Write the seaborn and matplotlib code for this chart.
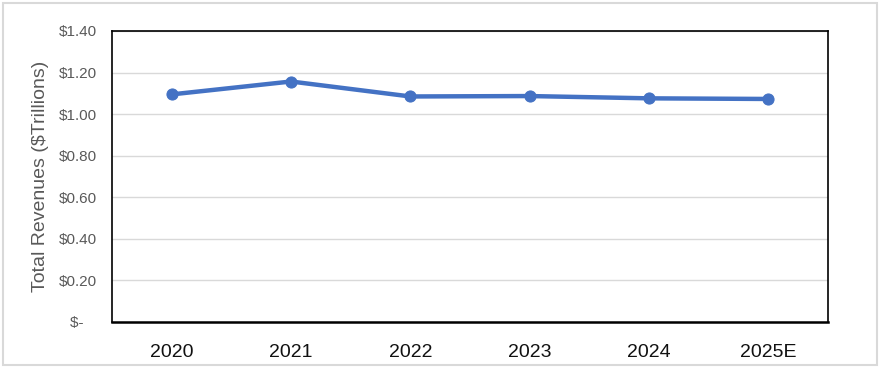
import matplotlib
matplotlib.use("Agg")
import matplotlib.pyplot as plt
import seaborn as sns
import pandas as pd
from matplotlib.patches import Rectangle

years = ["2020", "2021", "2022", "2023", "2024", "2025E"]
revenues = [1.095, 1.157, 1.085, 1.087, 1.076, 1.073]
ytick_values = [0.0, 0.2, 0.4, 0.6, 0.8, 1.0, 1.2, 1.4]
ytick_labels = ["$-   ", "$0.20", "$0.40", "$0.60", "$0.80", "$1.00", "$1.20", "$1.40"]
y_label = "Total Revenues ($Trillions)"

df = pd.DataFrame({"year": years, "revenue": revenues})
df["pos"] = range(len(years))

sns.set_style("white")
plt.rcParams["font.family"] = ["Liberation Sans", "DejaVu Sans"]

fig = plt.figure(figsize=(8.8, 3.69), dpi=100)
ax = fig.add_axes([0.1273, 0.1274, 0.8137, 0.7886])

# light grey outer frame
fig.patches.append(Rectangle((0.003, 0.012), 0.994, 0.98, transform=fig.transFigure,
                             fill=False, edgecolor="#d9d9d9", linewidth=1.5))

sns.lineplot(data=df, x="pos", y="revenue", ax=ax, color="#4472C4", linewidth=3.2,
             marker="o", markersize=8, markeredgecolor="#4472C4", markerfacecolor="#4472C4")

ax.set_xlim(-0.5, len(years) - 0.5)
ax.set_ylim(0, 1.4)
ax.set_yticks(ytick_values)
ax.set_yticklabels(ytick_labels, color="#595959", fontsize=11)
ax.yaxis.grid(True, color="#d9d9d9", linewidth=1)
ax.set_axisbelow(True)

# category labels centered, tick marks at boundaries
ax.set_xticks([i - 0.5 for i in range(len(years) + 1)])
ax.set_xticklabels([])
ax.set_xticks(range(len(years)), minor=True)
ax.set_xticklabels(years, minor=True, fontsize=14, fontweight="medium", color="#111111")
ax.tick_params(axis="x", which="major", direction="out", length=6, width=1, color="black")
ax.tick_params(axis="x", which="minor", length=0, pad=16)
ax.tick_params(axis="y", length=0, pad=11)

ax.set_xlabel("")
ax.set_ylabel(y_label, color="#595959", fontsize=14, labelpad=7)

for side in ["left", "right", "top"]:
    ax.spines[side].set_visible(True)
    ax.spines[side].set_color("black")
    ax.spines[side].set_linewidth(1.2)
ax.spines["bottom"].set_color("black")
ax.spines["bottom"].set_linewidth(1.8)

fig.savefig("out.png", dpi=100)
